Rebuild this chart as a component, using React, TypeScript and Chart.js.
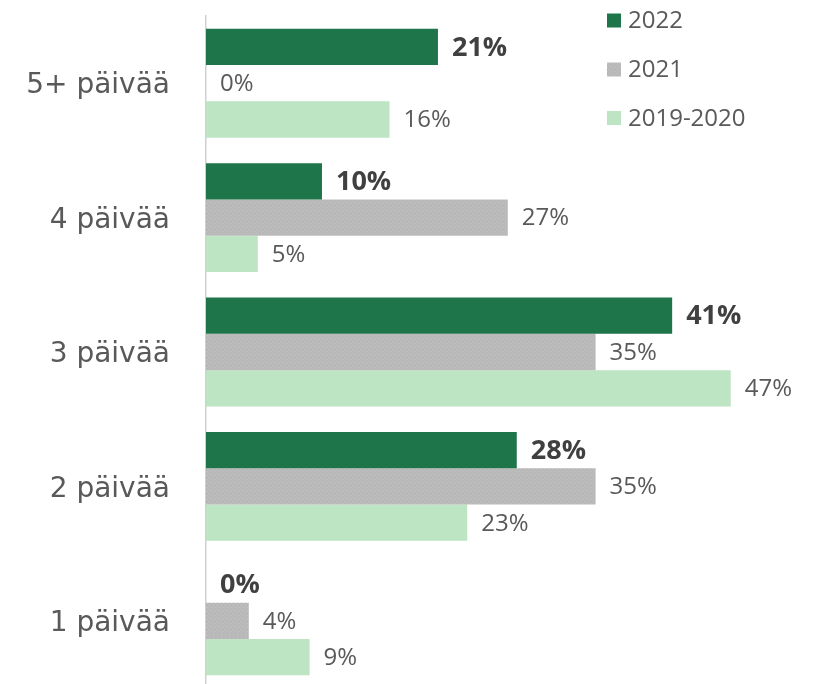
import React, { useEffect, useRef } from 'react';
import { Chart, registerables } from 'chart.js';

Chart.register(...registerables);

const categories = ['5+ päivää', '4 päivää', '3 päivää', '2 päivää', '1 päivää'];
const seriesNames = ['2022', '2021', '2019-2020'];
const values2022 = [20.6, 10.3, 41.4, 27.6, 0];
const values2021 = [0, 26.8, 34.6, 34.6, 3.8];
const values2019 = [16.3, 4.6, 46.6, 23.2, 9.2];
const xMin = 0;
const xMax = 50;

const colorDark = '#1E7549';
const colorLight = '#BDE4C3';

function makeGrayPattern(ctx: CanvasRenderingContext2D): CanvasPattern | string {
  const c = document.createElement('canvas');
  c.width = 4;
  c.height = 4;
  const g = c.getContext('2d');
  if (!g) return '#BBBBBB';
  g.fillStyle = '#B9B9B9';
  g.fillRect(0, 0, 4, 4);
  g.fillStyle = '#C3C3C3';
  g.fillRect(1, 1, 1, 1);
  g.fillRect(3, 3, 1, 1);
  g.fillStyle = '#B3B3B3';
  g.fillRect(3, 1, 1, 1);
  return ctx.createPattern(c, 'repeat') || '#BBBBBB';
}

const valueLabelPlugin = {
  id: 'valueLabels',
  afterDatasetsDraw(chart: any) {
    const ctx = chart.ctx;
    chart.data.datasets.forEach((ds: any, di: number) => {
      const meta = chart.getDatasetMeta(di);
      meta.data.forEach((bar: any, i: number) => {
        const v = ds.data[i];
        ctx.save();
        ctx.font = di === 0 ? 'bold 27px "Open Sans"' : '24px "Open Sans"';
        ctx.fillStyle = di === 0 ? '#404040' : '#595959';
        ctx.textAlign = 'left';
        ctx.textBaseline = 'middle';
        ctx.fillText(Math.round(v) + '%', bar.x + 14, bar.y + 1);
        ctx.restore();
      });
    });
  },
};

const sideLegendPlugin = {
  id: 'sideLegend',
  afterDraw(chart: any) {
    const ctx = chart.ctx;
    const rowsY = [20.5, 69.5, 118];
    chart.data.datasets.forEach((ds: any, di: number) => {
      const y = rowsY[di];
      ctx.save();
      ctx.fillStyle = ds.backgroundColor;
      ctx.fillRect(607, y - 7, 14, 14);
      ctx.font = '24px "Open Sans"';
      ctx.fillStyle = '#595959';
      ctx.textAlign = 'left';
      ctx.textBaseline = 'middle';
      ctx.fillText(ds.label, 628, y + 1);
      ctx.restore();
    });
  },
};

export default function App() {
  const ref = useRef<HTMLCanvasElement | null>(null);

  useEffect(() => {
    const canvas = ref.current;
    if (!canvas) return;
    const ctx = canvas.getContext('2d') as CanvasRenderingContext2D;
    const grayPattern = makeGrayPattern(ctx);
    const chart = new Chart(canvas, {
      type: 'bar',
      data: {
        labels: categories,
        datasets: [
          { label: seriesNames[0], data: values2022, backgroundColor: colorDark },
          { label: seriesNames[1], data: values2021, backgroundColor: grayPattern as any },
          { label: seriesNames[2], data: values2019, backgroundColor: colorLight },
        ],
      },
      options: {
        indexAxis: 'y',
        responsive: false,
        animation: false,
        devicePixelRatio: 1,
        layout: { padding: { top: 16, bottom: 12, left: 0, right: 46 } },
        datasets: {
          bar: { categoryPercentage: 0.81, barPercentage: 1.0, borderWidth: 0 },
        },
        plugins: {
          legend: { display: false },
          tooltip: { enabled: false },
          title: { display: false },
        },
        scales: {
          x: {
            min: xMin,
            max: xMax,
            display: false,
            grid: { display: false },
          },
          y: {
            position: 'left',
            grid: { display: false, drawTicks: false },
            border: { display: true, color: '#D0D0D0', width: 1.5 },
            ticks: {
              padding: 36,
              labelOffset: 3,
              color: '#595959',
              font: { family: '"DejaVu Sans"', size: 28 },
            },
            afterFit(scale: any) {
              scale.width = 206;
              scale.paddingTop = 0;
              scale.paddingBottom = 0;
            },
          },
        },
      },
      plugins: [valueLabelPlugin, sideLegendPlugin],
    });
    return () => chart.destroy();
  }, []);

  return (
    <div
      style={{
        position: 'fixed',
        left: 0,
        top: 0,
        width: 815,
        height: 684,
        overflow: 'hidden',
        background: '#ffffff',
      }}
    >
      <canvas ref={ref} width={815} height={700} style={{ display: 'block', width: 815, height: 700 }} />
    </div>
  );
}
